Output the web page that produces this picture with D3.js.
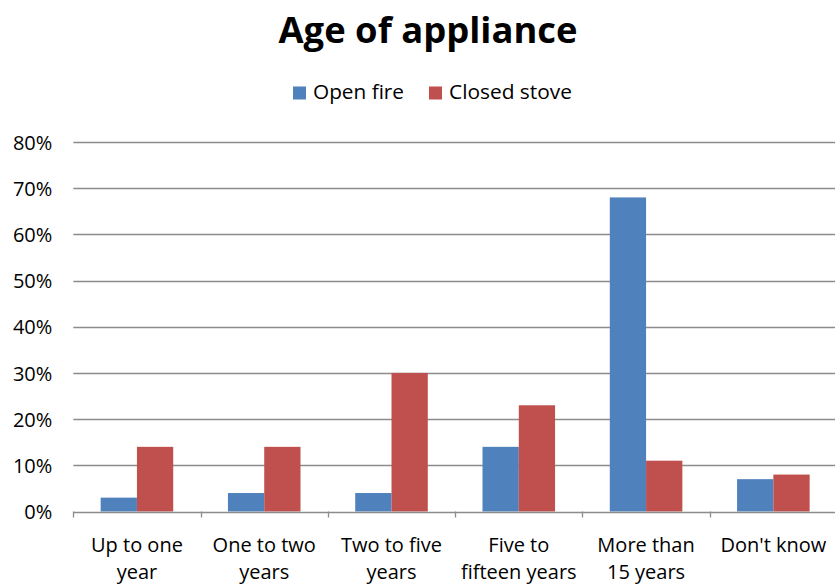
<!DOCTYPE html>
<html lang="en">
<head>
    <meta charset="UTF-8">
    <title>Age of appliance</title>
    <script src="https://cdn.jsdelivr.net/npm/d3@7"></script>
    <style>
        html, body {
            margin: 0;
            padding: 0;
            background: #ffffff;
        }
        #chart svg {
            display: block;
            font-family: "Open Sans", Lato, sans-serif;
        }
    </style>
</head>
<body>
    <div id="chart"></div>

    <script>
        // Categories (line breaks as in the picture)
        const categories = [
            "Up to one\nyear",
            "One to two\nyears",
            "Two to five\nyears",
            "Five to\nfifteen years",
            "More than\n15 years",
            "Don't know"
        ];
        const seriesNames = ["Open fire", "Closed stove"];
        const openFire = [3, 4, 4, 14, 68, 7];
        const closedStove = [14, 14, 30, 23, 11, 8];
        const yTicks = [0, 10, 20, 30, 40, 50, 60, 70, 80];
        const colors = ["#4F81BD", "#C0504D"];

        const width = 835, height = 584;
        const plot = { left: 73.3, right: 837, top: 142, bottom: 511.5 };

        const svg = d3.select("#chart")
            .append("svg")
            .attr("width", width)
            .attr("height", height);

        const x = d3.scaleBand()
            .domain(categories)
            .range([plot.left, plot.right])
            .paddingInner(0)
            .paddingOuter(0);

        const xSub = d3.scaleBand()
            .domain(seriesNames)
            .range([0, x.bandwidth()])
            .paddingInner(0)
            .paddingOuter(0.754);

        const y = d3.scaleLinear()
            .domain([0, 80])
            .range([plot.bottom, plot.top]);

        // Titre
        svg.append("text")
            .attr("x", 428)
            .attr("y", 43)
            .attr("text-anchor", "middle")
            .attr("font-weight", "bold")
            .attr("font-size", 36)
            .attr("fill", "#000")
            .attr("textLength", 299)
            .attr("lengthAdjust", "spacingAndGlyphs")
            .text("Age of appliance");

        // Légende
        const legendItems = [
            { name: seriesNames[0], color: colors[0], x: 293, w: 91 },
            { name: seriesNames[1], color: colors[1], x: 429, w: 123 }
        ];
        const legend = svg.append("g");
        legend.selectAll("rect")
            .data(legendItems)
            .join("rect")
            .attr("x", d => d.x)
            .attr("y", 86.5)
            .attr("width", 13)
            .attr("height", 13)
            .attr("fill", d => d.color);
        legend.selectAll("text")
            .data(legendItems)
            .join("text")
            .attr("x", d => d.x + 20)
            .attr("y", 99)
            .attr("font-size", 20)
            .attr("fill", "#000")
            .attr("textLength", d => d.w)
            .attr("lengthAdjust", "spacingAndGlyphs")
            .text(d => d.name);

        // Grille horizontale
        svg.append("g")
            .selectAll("line")
            .data(yTicks.filter(t => t > 0))
            .join("line")
            .attr("x1", plot.left)
            .attr("x2", width)
            .attr("y1", d => Math.round(y(d)) + 0.5)
            .attr("y2", d => Math.round(y(d)) + 0.5)
            .attr("stroke", "#8c8c8c")
            .attr("stroke-width", 1.3);

        // Axe Y (labels only)
        const yAxis = svg.append("g")
            .attr("transform", `translate(${plot.left},0)`)
            .call(d3.axisLeft(y).tickValues(yTicks).tickSize(0).tickPadding(21).tickFormat(d => d + "%"));
        yAxis.attr("font-family", null).attr("font-size", null);
        yAxis.select(".domain").remove();
        yAxis.selectAll("text")
            .attr("font-size", 20)
            .attr("fill", "#000")
            .attr("dy", "0.36em");

        // Barres
        const rows = categories.map((c, i) => ({ cat: c, values: [openFire[i], closedStove[i]] }));
        svg.append("g")
            .selectAll("g")
            .data(rows)
            .join("g")
            .attr("transform", d => `translate(${x(d.cat)},0)`)
            .selectAll("rect")
            .data(d => d.values.map((v, j) => ({ name: seriesNames[j], value: v, color: colors[j] })))
            .join("rect")
            .attr("x", d => xSub(d.name))
            .attr("y", d => y(d.value))
            .attr("width", xSub.bandwidth())
            .attr("height", d => y(0) - y(d.value))
            .attr("fill", d => d.color);

        // Axe X
        const xAxisG = svg.append("g");
        xAxisG.append("line")
            .attr("x1", plot.left)
            .attr("x2", width)
            .attr("y1", Math.round(plot.bottom) + 0.5)
            .attr("y2", Math.round(plot.bottom) + 0.5)
            .attr("stroke", "#8c8c8c")
            .attr("stroke-width", 1.3);
        const boundaries = categories.map(c => x(c)).concat([plot.right]);
        xAxisG.selectAll("line.tick")
            .data(boundaries)
            .join("line")
            .attr("class", "tick")
            .attr("x1", d => Math.round(d) + 0.5)
            .attr("x2", d => Math.round(d) + 0.5)
            .attr("y1", plot.bottom)
            .attr("y2", plot.bottom + 6)
            .attr("stroke", "#8c8c8c")
            .attr("stroke-width", 1.3);

        xAxisG.selectAll("text")
            .data(categories)
            .join("text")
            .attr("x", d => x(d) + x.bandwidth() / 2)
            .attr("y", 552)
            .attr("text-anchor", "middle")
            .attr("font-size", 20)
            .attr("fill", "#000")
            .each(function (d) {
                const lines = d.split("\n");
                d3.select(this).selectAll("tspan")
                    .data(lines)
                    .join("tspan")
                    .attr("x", x(d) + x.bandwidth() / 2)
                    .attr("dy", (l, i) => i === 0 ? 0 : 27)
                    .text(l => l);
            });
    </script>
</body>
</html>
